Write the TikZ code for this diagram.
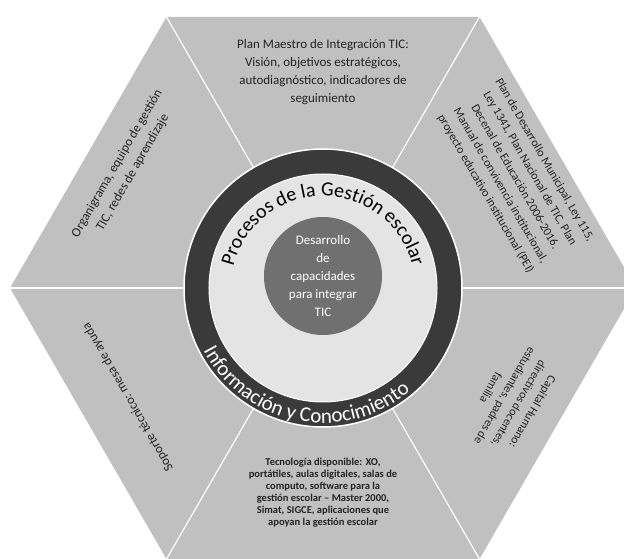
\documentclass[tikz,border=0pt]{standalone}
\usepackage{fontspec}
\setmainfont{Carlito}
\usepackage{xcolor}
\usepackage{tikz}
\usetikzlibrary{positioning,decorations.text}

\definecolor{segm}{RGB}{192,192,192}
\definecolor{anello}{RGB}{58,58,58}
\definecolor{chiaro}{RGB}{228,228,228}
\definecolor{nucleo}{RGB}{112,112,112}
\definecolor{testo}{RGB}{35,35,35}

\tikzset{
	etichetta/.style={align=center, text=testo, inner sep=0pt},
	cerchio/.style={circle, inner sep=0pt},
}

\begin{document}
\begin{tikzpicture}[x=1pt, y=1pt]
	\useasboundingbox (-323,-271) rectangle (301,288);
	% esagono
	\foreach \i in {0,...,5}
		\coordinate (v\i) at (\i*60:313);
	\fill[segm] (v0) -- (v1) -- (v2) -- (v3) -- (v4) -- (v5) -- cycle;

	% cerchi
	\node[cerchio, fill=anello, draw=white, line width=1.5pt, minimum size=278pt] (ring) at (0,0) {};
	\node[cerchio, fill=chiaro, draw=white, line width=1pt, minimum size=228pt] (core) at (0,0) {};
	\node[cerchio, fill=nucleo, minimum size=118pt, text=white, align=center, font=\fontsize{13}{18}\selectfont] (heart) at (0,12) {Desarrollo\\de\\capacidades\\para integrar\\TIC};

	% separatori
	\foreach \i in {0,...,5}
		\draw[white, line width=1.2pt] (v\i) -- (ring);

	% testi curvi
	\path[decorate, decoration={text along path, text align=center,
		text={|\fontsize{20}{20}\selectfont|Procesos de la Gestión escolar}}]
		(168:92) arc[start angle=168, end angle=12, radius=92];
	\path[decorate, decoration={text along path, text align=center, text color=white,
		text={|\fontsize{21}{21}\selectfont|Información y Conocimiento}}]
		(196:135) arc[start angle=196, end angle=322, radius=135];

	% testi dei settori
	\node[etichetta, font=\fontsize{13}{18}\selectfont] (piano) at (0,216) {Plan Maestro de Integración TIC:\\Visión, objetivos estratégicos,\\autodiagnóstico, indicadores de\\seguimiento};
	\node[etichetta, rotate=-60, font=\fontsize{12}{17}\selectfont] (norme) at (192,111) {Plan de Desarrollo Municipal, Ley 115,\\Ley 1341, Plan Nacional de TIC, Plan\\Decenal de Educación 2006-2016.\\Manual de convivencia institucional,\\proyecto educativo institucional (PEI)};
	\node[etichetta, rotate=-120, font=\fontsize{12}{16}\selectfont] (capitale) at (189,-112) {Capital Humano:\\directivos docentes,\\estudiantes, padres de\\familia};
	\node[etichetta, font=\bfseries\fontsize{10.5}{12}\selectfont] (tecno) at (0,-205) {Tecnología disponible: XO,\\portátiles, aulas digitales, salas de\\computo, software para la\\gestión escolar – Master 2000,\\Simat, SIGCE, aplicaciones que\\apoyan la gestión escolar};
	\node[etichetta, rotate=120, font=\fontsize{13}{16}\selectfont] (soporte) at (-195,-109) {Soporte técnico: mesa de ayuda};
	\node[etichetta, rotate=60, font=\fontsize{13}{18}\selectfont] (organi) at (-198,120) {Organigrama, equipo de gestión\\TIC, redes de aprendizaje};
\end{tikzpicture}
\end{document}
